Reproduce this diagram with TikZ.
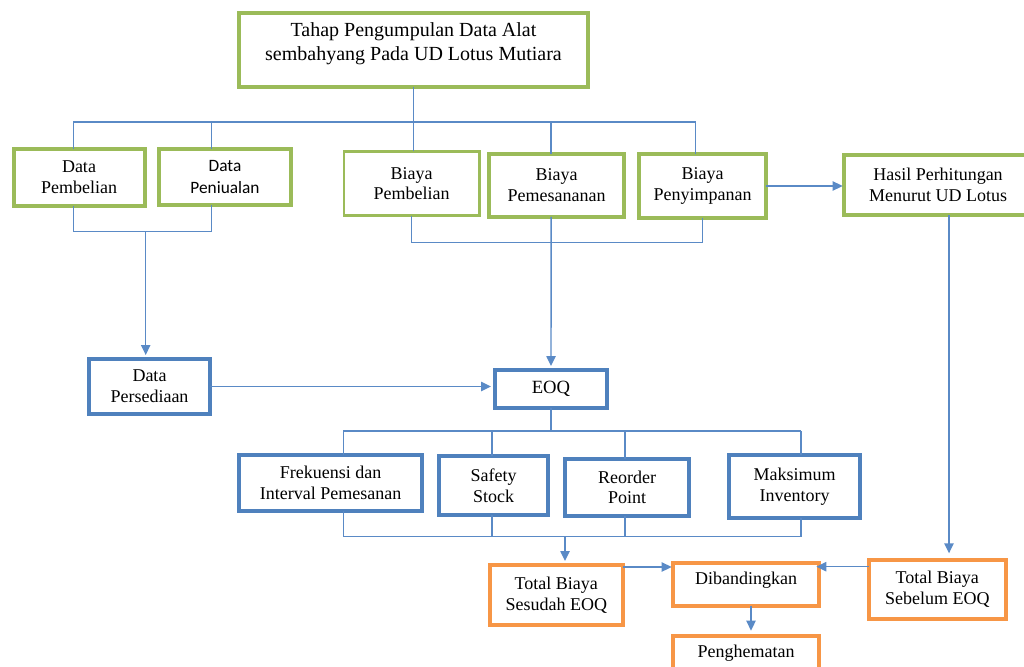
\documentclass[tikz,border=0pt]{standalone}
\usepackage{fontspec}
\setmainfont{Liberation Serif}
\newfontfamily\calib{Carlito}
\usepackage{tikz}
\usetikzlibrary{arrows.meta,positioning,calc}
\definecolor{leaf}{HTML}{9BBB59}
\definecolor{sea}{HTML}{4F81BD}
\definecolor{wire}{HTML}{5A8AC6}
\definecolor{peach}{HTML}{F79646}

\begin{document}
\begin{tikzpicture}[x=0.75pt,y=-0.75pt,
  box/.style={draw,line width=3pt,fill=white,align=center,inner sep=0pt,
    outer sep=0pt,font=\fontsize{13.5}{15.5}\selectfont},
  greenbox/.style={box,draw=leaf},
  bluebox/.style={box,draw=sea},
  orangebox/.style={box,draw=peach},
  link/.style={wire,line width=1.1pt},
  arr/.style={link,-{Triangle[length=7.5pt,width=7pt]},shorten >=3pt}]
  \useasboundingbox (0,0) rectangle (1024,667);

  % top row
  \node[greenbox,minimum width=261.75pt,minimum height=55.5pt,
    font=\fontsize{15}{18}\selectfont] (top) at (413.5,50)
    {Tahap Pengumpulan Data Alat\\sembahyang Pada UD Lotus Mutiara\\[-6pt]};

  % data and cost boxes
  \node[greenbox,minimum width=98.25pt,minimum height=42.75pt] (dpemb) at (79,177.5)
    {Data\\Pembelian};
  \node[greenbox,minimum width=99.5pt,minimum height=42.2pt,
    font=\calib\fontsize{13}{17}\selectfont] (dpenj) at (225,177)
    {Data\\Peniualan};
  \node[greenbox,line width=2pt,minimum width=101.5pt,minimum height=48.2pt] (bpemb)
    at (411.7,183.5) {Biaya\\Pembelian};
  \node[greenbox,minimum width=101.25pt,minimum height=47.5pt] (bpems) at (556.5,185.3)
    {Biaya\\Pemesananan};
  \node[greenbox,minimum width=95.25pt,minimum height=48pt] (bpeny) at (702.5,186)
    {Biaya\\Penyimpanan};
  \node[greenbox,minimum width=141pt,minimum height=45pt] (hasil) at (938,185)
    {Hasil Perhitungan\\Menurut UD Lotus};

  \node[bluebox,minimum width=90.75pt,minimum height=41.25pt] (dpers) at (149.5,386.5)
    {Data\\Persediaan};
  \node[bluebox,minimum width=84pt,minimum height=28.5pt,
    font=\fontsize{14}{16}\selectfont] (eoq) at (551,389) {EOQ};

  % EOQ outputs
  \node[bluebox,minimum width=137pt,minimum height=42pt] (frek) at (330.7,483)
    {Frekuensi dan\\Interval Pemesanan};
  \node[bluebox,minimum width=81.75pt,minimum height=44.25pt] (safe) at (493.5,485.5)
    {Safety\\Stock};
  \node[bluebox,minimum width=93pt,minimum height=42.75pt] (reord) at (627,487.5)
    {Reorder\\Point};
  \node[bluebox,minimum width=98.25pt,minimum height=47.25pt] (maks) at (794.5,486.5)
    {Maksimum\\Inventory};

  % comparison
  \node[orangebox,minimum width=100pt,minimum height=45pt] (sesud) at (556.3,595)
    {Total Biaya\\Sesudah EOQ};
  \node[orangebox,minimum width=109.5pt,minimum height=32.25pt] (dib) at (746,584.5)
    {Dibandingkan\\[-5.7pt]};
  \node[orangebox,minimum width=103pt,minimum height=44.25pt] (sebel) at (937.3,589.5)
    {Total Biaya\\Sebelum EOQ};
  \node[orangebox,minimum width=109.5pt,minimum height=32.25pt] (pengh) at (746,657.5)
    {Penghematan\\[-5.7pt]};

  \coordinate (bus1) at (413.5,122);
  \coordinate (bus2) at (145.7,231.7);
  \coordinate (bus3) at (551,242.7);
  \coordinate (bus4) at (551,431);
  \coordinate (bus5) at (565,536.5);

  \draw[link] (top.south) -- (bus1);
  \draw[link] ([xshift=-4.3pt]dpemb.north |- bus1) -- ([xshift=-5.1pt]bpeny.north |- bus1);
  \foreach \n/\dx in {dpemb/-4.3,dpenj/-10,bpemb/1.3,bpems/-4.1,bpeny/-5.1}
    \draw[link] ([xshift=\dx pt]\n.north) -- ([xshift=\dx pt]\n.north |- bus1);

  \draw[link] ([xshift=-4.3pt]dpemb.south) |- ([xshift=-10pt]dpenj.south |- bus2)
    -- ([xshift=-10pt]dpenj.south);
  \draw[arr] (bus2) -- (bus2 |- dpers.north);

  \draw[link] (bpemb.south) |- (bus3) -| (bpeny.south);
  \draw[arr] ([xshift=-4.1pt]bpems.south) -- (eoq.north);
  \draw[arr,shorten >=1pt] (bpeny.east) -- (bpeny.east -| hasil.west);
  \draw[arr] (dpers.east) -- (dpers.east -| eoq.west);

  \draw[link] (eoq.south) -- (bus4);
  \draw[link] ([xshift=9.45pt]frek.north |- bus4) -- ([xshift=4.9pt]maks.north |- bus4);
  \draw[link] ([xshift=9.45pt]frek.south |- bus5) -- ([xshift=4.9pt]maks.south |- bus5);
  \foreach \n/\dx in {frek/9.45,safe/-1,reord/-1.5,maks/4.9} {
    \draw[link] ([xshift=\dx pt]\n.north) -- ([xshift=\dx pt]\n.north |- bus4);
    \draw[link] ([xshift=\dx pt]\n.south) -- ([xshift=\dx pt]\n.south |- bus5);
  }
  \draw[arr] (bus5) -- (bus5 |- sesud.north);

  \draw[arr,shorten >=5pt] ([xshift=8.25pt]hasil.south) -- ([xshift=8.25pt]hasil.south |- sebel.north);
  \draw[arr,shorten >=1pt] ([yshift=-1.5pt]sesud.north east) -- ([yshift=-1.5pt]sesud.north east -| dib.west);
  \draw[arr,shorten >=-2pt] ([yshift=-5pt]sebel.north west) -- ([yshift=-5pt]sebel.north west -| dib.east);
  \draw[arr,shorten >=4pt] ([xshift=3.75pt]dib.south) -- ([xshift=3.75pt]dib.south |- pengh.north);
\end{tikzpicture}
\end{document}
